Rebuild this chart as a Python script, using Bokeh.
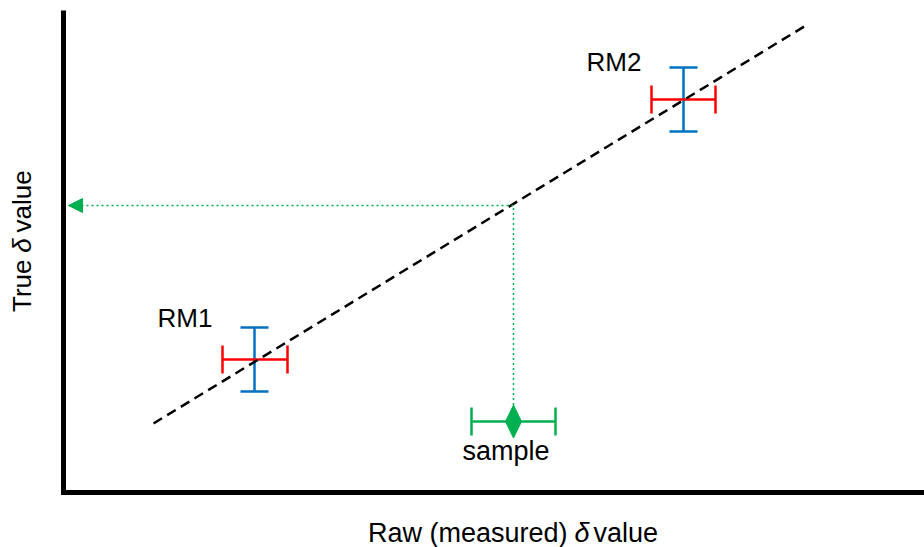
import math
from bokeh.plotting import figure
from bokeh.models import (ColumnDataSource, Whisker, TeeHead, Arrow, NormalHead,
                          Label, Range1d)
from bokeh.embed import file_html
from bokeh.resources import INLINE

# ---- data (arbitrary delta units) ----
rm_names = ["RM1", "RM2"]
rm_raw = [19.1, 62.0]
rm_raw_lo = [15.9, 58.8]
rm_raw_hi = [22.4, 65.2]
rm_true = [13.3, 39.3]
rm_true_lo = [10.1, 36.1]
rm_true_hi = [16.5, 42.5]

sample_raw = [45.0]
sample_raw_lo = [40.8]
sample_raw_hi = [49.2]
sample_y = [7.1]
sample_true = [28.7]

calib_x = [9.0, 74.4]
calib_y = [6.9, 46.8]

# axis extents (data units)
X_MAX = 86.1
Y_MAX = 48.2

BLUE = "#0070C0"
RED = "#FF0000"
GREEN = "#00B050"
FONT = "Liberation Sans"
FS = "26px"
FS2 = "27px"

p = figure(width=924, height=547, output_backend="svg", toolbar_location=None,
           x_range=Range1d(-6.3, X_MAX), y_range=Range1d(-5.5, Y_MAX + 1.0),
           x_axis_location=None, y_axis_location=None,
           min_border=0, min_border_left=0, min_border_right=0,
           min_border_top=0, min_border_bottom=0)
p.grid.visible = False
p.outline_line_color = None
p.background_fill_color = "white"
p.border_fill_color = "white"

# axis lines (L shape)
p.line([0, 0, X_MAX], [Y_MAX, 0, 0], line_color="black", line_width=5, line_join="miter")

rm_src = ColumnDataSource(dict(x=rm_raw, xlo=rm_raw_lo, xhi=rm_raw_hi,
                               y=rm_true, ylo=rm_true_lo, yhi=rm_true_hi))

blue_w = Whisker(source=rm_src, base="x", lower="ylo", upper="yhi", dimension="height",
                 line_color=BLUE, line_width=2.5,
                 lower_head=TeeHead(size=28, line_color=BLUE, line_width=2.5),
                 upper_head=TeeHead(size=28, line_color=BLUE, line_width=2.5))
red_w = Whisker(source=rm_src, base="y", lower="xlo", upper="xhi", dimension="width",
                line_color=RED, line_width=2.5,
                lower_head=TeeHead(size=28, line_color=RED, line_width=2.5),
                upper_head=TeeHead(size=28, line_color=RED, line_width=2.5))
p.add_layout(blue_w)
p.add_layout(red_w)

s_src = ColumnDataSource(dict(x=sample_raw, xlo=sample_raw_lo, xhi=sample_raw_hi, y=sample_y))
green_w = Whisker(source=s_src, base="y", lower="xlo", upper="xhi", dimension="width",
                  line_color=GREEN, line_width=2.5,
                  lower_head=TeeHead(size=28, line_color=GREEN, line_width=2.5),
                  upper_head=TeeHead(size=28, line_color=GREEN, line_width=2.5))
p.add_layout(green_w)

# calibration line
p.line(calib_x, calib_y, line_color="black", line_width=2.5, line_dash="10 6")

# sample diamond (tall, narrow)
DW, DH = 0.8, 1.65
sx, sy = sample_raw[0], sample_y[0]
p.patch([sx - DW, sx, sx + DW, sx], [sy, sy + DH, sy, sy - DH],
        fill_color=GREEN, line_color=GREEN, line_width=1)

# dotted read-off lines
p.line([sx, sx], [sy + DH, sample_true[0]], line_color=GREEN, line_width=1.5, line_dash="2 3")
p.add_layout(Arrow(x_start=sx, y_start=sample_true[0], x_end=0.5, y_end=sample_true[0],
                   line_color=GREEN, line_width=1.5, line_dash="2 3",
                   end=NormalHead(size=14, fill_color=GREEN, line_color=GREEN, line_width=1)))

# text labels
p.add_layout(Label(x=9.4, y=17.45, text=rm_names[0], text_font=FONT, text_font_size=FS,
                   text_baseline="alphabetic", text_align="left", text_color="black"))
p.add_layout(Label(x=52.3, y=43.05, text=rm_names[1], text_font=FONT, text_font_size=FS,
                   text_baseline="alphabetic", text_align="left", text_color="black"))
p.add_layout(Label(x=44.25, y=4.2, text="sample", text_font=FONT, text_font_size=FS2,
                   text_baseline="alphabetic", text_align="center", text_color="black"))

# x axis title
XT_Y = -4.0
p.add_layout(Label(x=50.4, y=XT_Y, text="Raw (measured)", text_font=FONT, text_font_size=FS2,
                   text_baseline="alphabetic", text_align="right", text_color="black"))
p.add_layout(Label(x=51.85, y=XT_Y, text="δ", text_font=FONT, text_font_size=FS2,
                   text_font_style="italic",
                   text_baseline="alphabetic", text_align="center", text_color="black"))
p.add_layout(Label(x=53.0, y=XT_Y, text="value", text_font=FONT, text_font_size=FS2,
                   text_baseline="alphabetic", text_align="left", text_color="black"))

# y axis title (rotated)
A = math.pi / 2
YT_X = -4.15
p.add_layout(Label(x=YT_X, y=23.3, text="True", text_font=FONT, text_font_size=FS, angle=A,
                   text_baseline="alphabetic", text_align="right", text_color="black"))
p.add_layout(Label(x=YT_X, y=24.7, text="δ", text_font=FONT, text_font_size=FS, angle=A,
                   text_font_style="italic",
                   text_baseline="alphabetic", text_align="center", text_color="black"))
p.add_layout(Label(x=YT_X, y=26.0, text="value", text_font=FONT, text_font_size=FS, angle=A,
                   text_baseline="alphabetic", text_align="left", text_color="black"))

open("out.html", "w").write(file_html(p, INLINE))
